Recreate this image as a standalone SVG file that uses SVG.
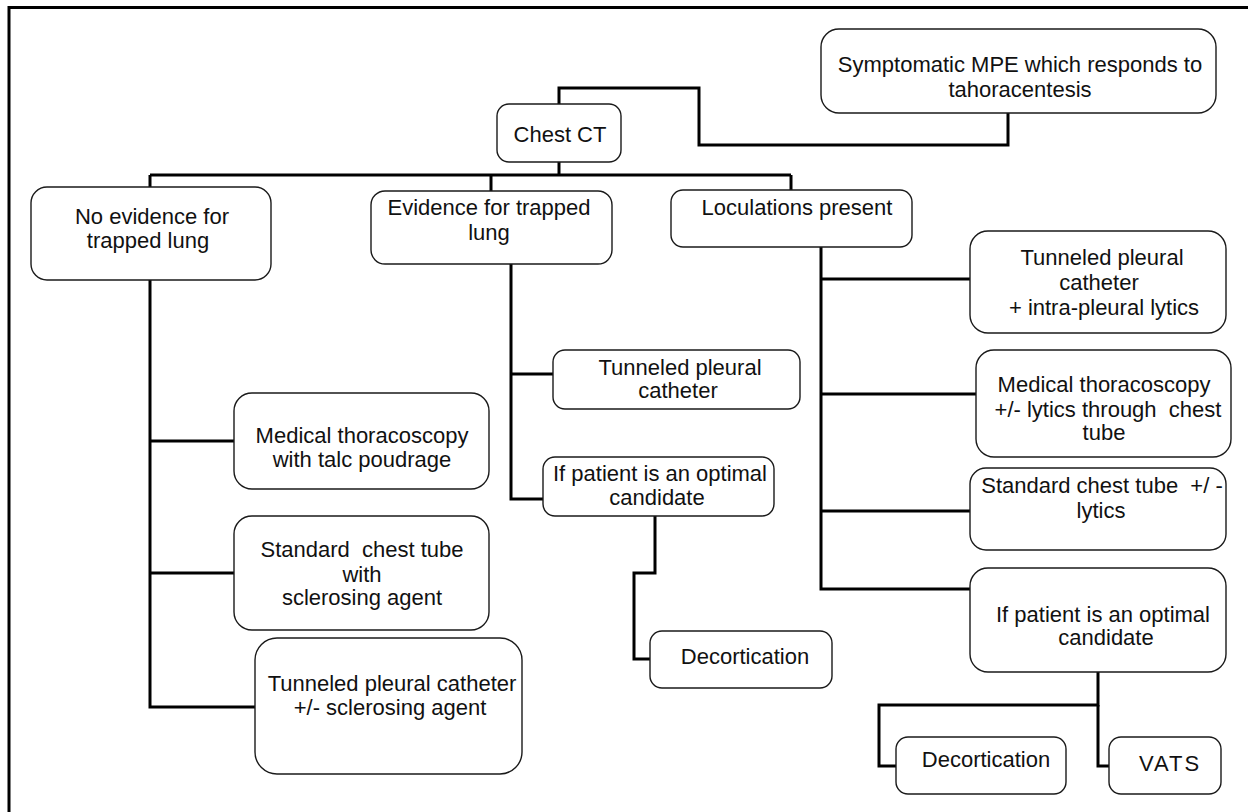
<svg xmlns="http://www.w3.org/2000/svg" width="1248" height="812" viewBox="0 0 1248 812">
<style>
.box{fill:#fff;stroke:#1a1a1a;stroke-width:1.4}
.t{font-family:"Liberation Sans",Arial,sans-serif;font-size:22px;fill:#111;text-anchor:middle;white-space:pre}
.c{fill:none;stroke:#000;stroke-width:3;stroke-linejoin:miter}
</style>
<rect width="1248" height="812" fill="#fff"/>
<path d="M9,812 V7.5 H1248" fill="none" stroke="#000" stroke-width="3"/>
<g id="connectors" class="c">
<path d="M1008,113 V145 H699 V88 H559 V104"/>
<path d="M559,162 V175"/>
<path d="M150,175 H791"/>
<path d="M150,175 V187"/>
<path d="M491,175 V191"/>
<path d="M791,175 V190"/>
<path d="M150,280 V707 H255"/>
<path d="M150,441 H234"/>
<path d="M150,573 H234"/>
<path d="M511,264 V499 H543"/>
<path d="M511,374 H553"/>
<path d="M655,516 V573 H634 V659 H650"/>
<path d="M821,247 V589 H970"/>
<path d="M821,279 H970"/>
<path d="M821,394 H976"/>
<path d="M821,511 H970"/>
<path d="M1098,672 V705 H879 V766 H896"/>
<path d="M1098,705 V766 H1109"/>
</g>
<g id="symptomatic"><rect class="box" x="821" y="29" width="395" height="84" rx="18"/>
<text class="t" x="1020" y="72">Symptomatic MPE which responds to</text><text class="t" x="1020" y="97">tahoracentesis</text></g>
<g id="chest-ct"><rect class="box" x="497" y="104" width="124" height="58" rx="12"/>
<text class="t" x="560" y="142">Chest CT</text></g>
<g id="no-evidence"><rect class="box" x="31" y="187" width="240" height="93" rx="16"/>
<text class="t" x="152" y="224">No evidence for</text><text class="t" x="148" y="248">trapped lung</text></g>
<g id="evidence"><rect class="box" x="371" y="191" width="241" height="73" rx="14"/>
<text class="t" x="489" y="215">Evidence for trapped</text><text class="t" x="489" y="240">lung</text></g>
<g id="loculations"><rect class="box" x="671" y="190" width="241" height="57" rx="12"/>
<text class="t" x="797" y="215">Loculations present</text></g>
<g id="tpc-lytics"><rect class="box" x="970" y="231" width="256" height="102" rx="18"/>
<text class="t" x="1102" y="265">Tunneled pleural</text><text class="t" x="1099" y="290">catheter</text><text class="t" x="1104" y="315">+ intra-pleural lytics</text></g>
<g id="med-thor-lytics"><rect class="box" x="976" y="350" width="255" height="107" rx="18"/>
<text class="t" x="1104" y="392">Medical thoracoscopy</text><text class="t" x="1108" y="417">+/- lytics through  chest</text><text class="t" x="1104" y="440">tube</text></g>
<g id="std-tube-lytics"><rect class="box" x="970" y="468" width="256" height="82" rx="16"/>
<text class="t" x="1102" y="493">Standard chest tube  +/ -</text><text class="t" x="1101" y="518">lytics</text></g>
<g id="if-optimal-right"><rect class="box" x="970" y="568" width="256" height="104" rx="18"/>
<text class="t" x="1103" y="622">If patient is an optimal</text><text class="t" x="1106" y="645">candidate</text></g>
<g id="decortication-right"><rect class="box" x="896" y="737" width="170" height="57" rx="12"/>
<text class="t" x="986" y="767">Decortication</text></g>
<g id="vats"><rect class="box" x="1109" y="737" width="112" height="57" rx="12"/>
<text class="t" x="1170" y="771" style="letter-spacing:2px">VATS</text></g>
<g id="tpc-middle"><rect class="box" x="553" y="350" width="247" height="59" rx="12"/>
<text class="t" x="680" y="375">Tunneled pleural</text><text class="t" x="678" y="398">catheter</text></g>
<g id="if-optimal-middle"><rect class="box" x="543" y="457" width="231" height="59" rx="12"/>
<text class="t" x="660" y="481">If patient is an optimal</text><text class="t" x="657" y="505">candidate</text></g>
<g id="decortication-middle"><rect class="box" x="650" y="631" width="182" height="57" rx="12"/>
<text class="t" x="745" y="664">Decortication</text></g>
<g id="med-thor-talc"><rect class="box" x="234" y="393" width="255" height="96" rx="18"/>
<text class="t" x="362" y="443">Medical thoracoscopy</text><text class="t" x="362" y="467">with talc poudrage</text></g>
<g id="std-tube-sclerosing"><rect class="box" x="234" y="516" width="255" height="114" rx="18"/>
<text class="t" x="362" y="557">Standard  chest tube</text><text class="t" x="362" y="582">with</text><text class="t" x="362" y="605">sclerosing agent</text></g>
<g id="tpc-sclerosing"><rect class="box" x="255" y="638" width="267" height="136" rx="22"/>
<text class="t" x="392" y="691">Tunneled pleural catheter</text><text class="t" x="390" y="715">+/- sclerosing agent</text></g>
</svg>
